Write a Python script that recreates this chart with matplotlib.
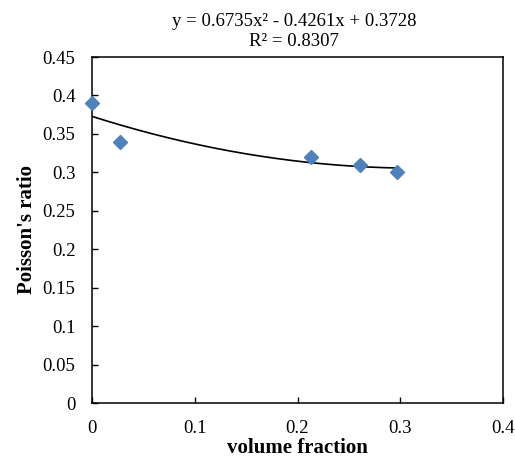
import numpy as np
import matplotlib.pyplot as plt

plt.rcParams['font.family'] = ['Liberation Serif', 'DejaVu Serif']

# data
vol_frac = [0.0, 0.027, 0.213, 0.261, 0.297]
poisson = [0.39, 0.34, 0.32, 0.31, 0.30]
# polynomial trendline as printed on the chart (a, b, c)
trend_coef = [0.6735, -0.4261, 0.3728]
r2 = 0.8307

xticks = [0, 0.1, 0.2, 0.3, 0.4]
xticklabels = ['0', '0.1', '0.2', '0.3', '0.4']
yticks = [0, 0.05, 0.1, 0.15, 0.2, 0.25, 0.3, 0.35, 0.4, 0.45]
yticklabels = ['0', '0.05', '0.1', '0.15', '0.2', '0.25', '0.3', '0.35', '0.4', '0.45']

fig = plt.figure(figsize=(5.15, 4.59), dpi=100)
ax = fig.add_axes([92 / 515, 1 - 403 / 459, 411 / 515, 346 / 459])

xs = np.linspace(min(vol_frac), max(vol_frac), 200)
ax.plot(xs, np.polyval(trend_coef, xs), color='black', lw=1.2, zorder=2)
ax.plot(vol_frac, poisson, 'D', color='#4F81BD', ms=7.5, mec='#4F81BD',
        zorder=3, clip_on=False)

ax.set_xlim(0, 0.4)
ax.set_ylim(0, 0.45)
ax.set_xticks(xticks)
ax.set_xticklabels(xticklabels)
ax.set_yticks(yticks)
ax.set_yticklabels(yticklabels)
ax.tick_params(direction='in', length=4, width=1, labelsize=13.5, pad=12)
for s in ax.spines.values():
    s.set_linewidth(1.1)

ax.set_xlabel('volume fraction', fontsize=15, fontweight='bold', labelpad=1)
ax.set_ylabel("Poisson's ratio", fontsize=15, fontweight='bold', labelpad=4)

a, b, c = trend_coef
eq = 'y = %.4fx² - %.4fx + %.4f' % (a, abs(b), c)
fig.text(0.571, 1 - 21 / 459, eq, ha='center', va='center', fontsize=13.5)
fig.text(0.571, 1 - 42 / 459, 'R² = %.4f' % r2, ha='center', va='center', fontsize=13.5)

fig.savefig('out.png', dpi=100)
